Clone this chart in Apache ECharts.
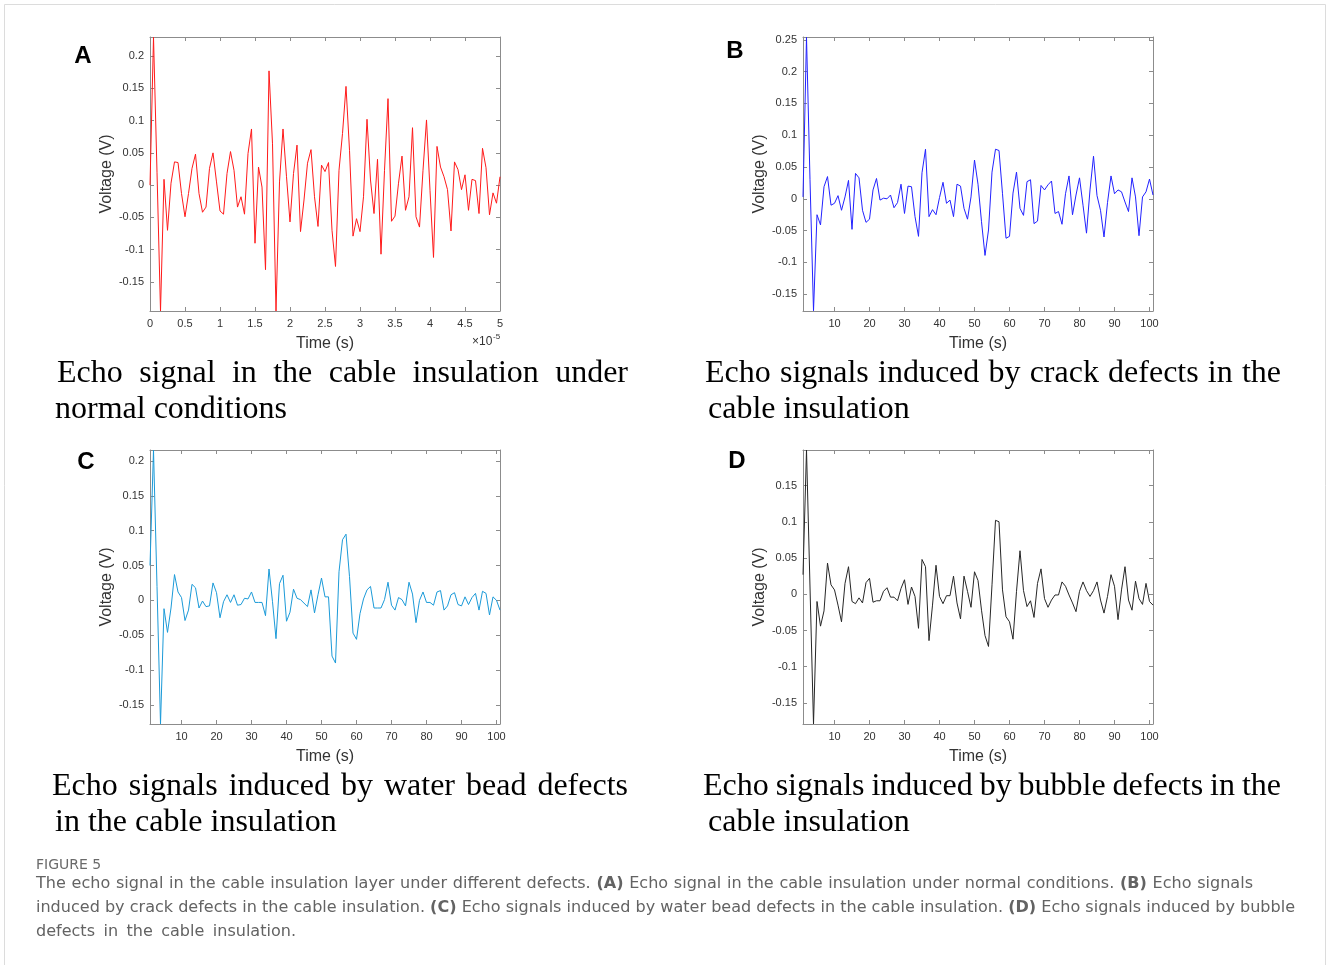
<!DOCTYPE html>
<html><head><meta charset="utf-8">
<script src="https://cdn.jsdelivr.net/npm/echarts@6/dist/echarts.min.js"></script>
<style>html,body{margin:0;padding:0;background:#fff}#c{width:1328px;height:965px}</style>
</head><body><div id="c"></div>
<script>
// ---------------- DATA ----------------
// Panel A: 101 samples, time axis in seconds (0 .. 5e-5)
const voltageA = [0.0,0.229,0.02,-0.195,0.009,-0.070,0.003,0.036,0.035,-0.013,
 -0.049,-0.013,0.026,0.048,-0.013,-0.042,-0.034,0.026,0.050,0.005,
 -0.040,-0.045,0.018,0.052,0.023,-0.034,-0.018,-0.045,0.049,0.087,
 -0.090,0.028,-0.003,-0.131,0.177,0.064,-0.195,0.005,0.087,0.013,
 -0.057,0.018,0.062,-0.072,-0.023,0.034,0.055,-0.018,-0.064,0.031,
 0.021,0.035,-0.070,-0.126,0.023,0.080,0.153,0.054,-0.079,-0.052,
 -0.072,-0.018,0.102,0.008,-0.044,0.040,-0.107,0.023,0.134,-0.056,
 -0.048,0.003,0.045,-0.039,-0.018,0.089,-0.049,-0.065,0.023,0.101,
 -0.008,-0.112,0.060,0.028,0.013,-0.007,-0.071,0.036,0.024,-0.007,
 0.016,-0.039,0.009,0.007,-0.044,0.057,0.027,-0.046,-0.012,-0.028,0.013];
// Panels B-D: samples 1..101
const voltageB = [0.003,0.254,0.03,-0.176,-0.025,-0.041,0.019,0.035,-0.010,-0.007,
 0.005,-0.018,0.003,0.029,-0.048,0.040,0.033,-0.018,-0.037,-0.032,
 0.014,0.032,-0.002,0.001,0.000,0.006,-0.014,-0.006,0.023,-0.023,
 0.020,0.019,-0.028,-0.059,0.041,0.078,-0.028,-0.017,-0.025,0.002,
 0.026,-0.007,-0.002,-0.028,0.023,0.020,-0.015,-0.032,0.003,0.061,
 0.023,-0.036,-0.089,-0.049,0.042,0.078,0.076,0.008,-0.062,-0.059,
 0.009,0.042,-0.015,-0.026,0.027,0.030,-0.039,-0.035,0.021,0.014,
 0.022,0.028,-0.023,-0.020,-0.040,0.008,0.036,-0.025,0.006,0.033,
 -0.010,-0.054,0.014,0.067,0.005,-0.018,-0.060,-0.006,0.036,0.008,
 0.014,0.011,-0.005,-0.020,0.033,0.003,-0.058,0.003,0.011,0.031,0.006];
const voltageC = [0.05,0.2158,0.02,-0.1775,-0.012,-0.046,-0.011,0.037,0.012,0.004,
 -0.029,-0.014,0.023,0.018,-0.011,-0.001,-0.009,-0.008,0.025,0.011,
 -0.025,-0.002,0.008,-0.003,0.008,-0.007,-0.006,0.003,0.002,0.012,
 -0.003,-0.003,-0.003,-0.022,0.045,-0.002,-0.055,0.024,0.036,-0.030,
 -0.017,0.016,0.003,0.001,-0.004,-0.009,0.015,-0.018,0.008,0.032,
 0.005,0.005,-0.080,-0.090,0.041,0.087,0.095,0.034,-0.047,-0.056,
 -0.019,0.002,0.015,0.020,-0.011,-0.011,-0.011,0.001,0.026,-0.007,
 -0.014,0.004,0.001,-0.008,0.026,0.009,-0.032,0.000,0.012,-0.003,
 -0.003,-0.007,0.012,0.014,-0.014,-0.008,0.008,0.011,-0.006,-0.008,
 0.005,-0.006,0.004,0.010,-0.014,0.013,0.010,-0.021,0.005,0.000,-0.014];
const voltageD = [0.027,0.199,0.01,-0.179,-0.010,-0.044,-0.023,0.043,0.013,0.006,
 -0.015,-0.038,0.015,0.038,-0.010,-0.013,-0.005,-0.012,0.016,0.022,
 -0.011,-0.009,-0.009,0.004,0.009,-0.004,-0.004,-0.009,0.008,0.020,
 -0.014,0.010,-0.003,-0.047,0.048,0.038,-0.064,-0.015,0.040,-0.003,
 -0.013,-0.002,-0.002,0.025,-0.012,-0.034,0.025,0.004,-0.018,0.031,
 0.019,-0.022,-0.057,-0.072,0.013,0.102,0.100,0.006,-0.031,-0.038,
 -0.062,0.004,0.060,0.005,-0.017,-0.009,-0.032,0.015,0.035,-0.006,
 -0.018,-0.008,-0.001,-0.001,0.017,0.011,-0.001,-0.012,-0.024,0.004,
 0.017,0.005,-0.003,0.005,0.017,-0.008,-0.026,-0.003,0.027,0.011,
 -0.035,0.006,0.038,-0.008,-0.022,0.018,-0.006,-0.014,0.015,-0.010,-0.015];

const samplePeriodA = 5e-7;            // seconds between samples in panel A
const timeTicksA = [0,0.5e-5,1e-5,1.5e-5,2e-5,2.5e-5,3e-5,3.5e-5,4e-5,4.5e-5,5e-5];
const timeTicksBCD = [10,20,30,40,50,60,70,80,90,100];
const voltTicksA = [-0.15,-0.1,-0.05,0,0.05,0.1,0.15,0.2];
const voltTicksB = [-0.15,-0.1,-0.05,0,0.05,0.1,0.15,0.2,0.25];
const voltTicksC = [-0.15,-0.1,-0.05,0,0.05,0.1,0.15,0.2];
const voltTicksD = [-0.15,-0.1,-0.05,0,0.05,0.1,0.15];
const voltRangeA = [-0.195,0.2295];
const voltRangeB = [-0.1764,0.2545];
const voltRangeC = [-0.1775,0.2158];
const voltRangeD = [-0.179,0.199];
const timeRangeA = [0,5e-5];
const timeRangeBCD = [1,101];

const panelLetters = ['A','B','C','D'];
const subCaptions = [
  ['Echo signal in the cable insulation under','normal conditions'],
  ['Echo signals induced by crack defects in the','cable insulation'],
  ['Echo signals induced by water bead defects','in the cable insulation'],
  ['Echo signals induced by bubble defects in the','cable insulation']
];
const figureLabel = 'FIGURE 5';
const captionLines = [
  'The echo signal in the cable insulation layer under different defects. (A) Echo signal in the cable insulation under normal conditions. (B) Echo signals',
  'induced by crack defects in the cable insulation. (C) Echo signals induced by water bead defects in the cable insulation. (D) Echo signals induced by bubble',
  'defects in the cable insulation.'
];

// ---------------- BUILD ----------------
const FONT = 'Liberation Sans, Arial, sans-serif';
const AX = '#8c8c8c', TX = '#333';
const chart = echarts.init(document.getElementById('c'), null, {renderer:'canvas'});

const panels = [
  {grid:{left:150,top:37,width:350,height:274}, xr:timeRangeA, xt:timeTicksA, xf:v=>String(parseFloat((v*1e5).toFixed(2))), yr:voltRangeA, yt:voltTicksA, color:'#ff1a1a',
   data:voltageA.map((v,i)=>[i*samplePeriodA,v])},
  {grid:{left:803,top:37,width:350,height:274}, xr:timeRangeBCD, xt:timeTicksBCD, xf:v=>String(v), yr:voltRangeB, yt:voltTicksB, color:'#2222ff',
   data:voltageB.map((v,i)=>[i+1,v])},
  {grid:{left:150,top:450,width:350,height:274}, xr:timeRangeBCD, xt:timeTicksBCD, xf:v=>String(v), yr:voltRangeC, yt:voltTicksC, color:'#1b9ad8',
   data:voltageC.map((v,i)=>[i+1,v])},
  {grid:{left:803,top:450,width:350,height:274}, xr:timeRangeBCD, xt:timeTicksBCD, xf:v=>String(v), yr:voltRangeD, yt:voltTicksD, color:'#262626',
   data:voltageD.map((v,i)=>[i+1,v])}
];

const grids=[], xAxes=[], yAxes=[], series=[];
const line = {show:true,onZero:false,lineStyle:{color:AX,width:1}};
const tick = (vals)=>({show:true,inside:true,length:4,customValues:vals,lineStyle:{color:AX,width:1}});
panels.forEach((p,gi)=>{
  grids.push(Object.assign({containLabel:false},p.grid));
  const yf = v=>String(parseFloat(v.toFixed(3)));
  xAxes.push({type:'value',gridIndex:gi,position:'bottom',min:p.xr[0],max:p.xr[1],axisLine:line,axisTick:tick(p.xt),
    axisLabel:{customValues:p.xt,formatter:p.xf,color:TX,fontSize:11,fontFamily:FONT,margin:7},splitLine:{show:false},
    name:'Time (s)',nameLocation:'middle',nameGap:25,nameTextStyle:{fontSize:16,color:TX,fontFamily:FONT}});
  xAxes.push({type:'value',gridIndex:gi,position:'top',min:p.xr[0],max:p.xr[1],axisLine:line,axisTick:tick(p.xt),
    axisLabel:{show:false},splitLine:{show:false}});
  yAxes.push({type:'value',gridIndex:gi,position:'left',min:p.yr[0],max:p.yr[1],axisLine:line,axisTick:tick(p.yt),
    axisLabel:{customValues:p.yt,formatter:yf,color:TX,fontSize:11,fontFamily:FONT,margin:6},splitLine:{show:false},
    name:'Voltage (V)',nameLocation:'middle',nameGap:33,nameTextStyle:{fontSize:16,color:TX,fontFamily:FONT}});
  yAxes.push({type:'value',gridIndex:gi,position:'right',min:p.yr[0],max:p.yr[1],axisLine:line,axisTick:tick(p.yt),
    axisLabel:{show:false},splitLine:{show:false}});
  series.push({type:'line',xAxisIndex:gi*2,yAxisIndex:gi*2,data:p.data,showSymbol:false,symbol:'none',
    lineStyle:{color:p.color,width:1},silent:true,z:3});
});

// graphics
const graphic = [];
graphic.push({type:'rect',shape:{x:4.5,y:4.5,width:1321,height:990},style:{fill:'none',stroke:'#dcdcdc',lineWidth:1},z:-1});
const letterPos = [[83,55],[735,50],[86,461],[737,460]];
panelLetters.forEach((L,i)=>graphic.push({type:'text',x:letterPos[i][0],y:letterPos[i][1]+1,
  style:{text:L,fontSize:24,fontWeight:'bold',fontFamily:FONT,fill:'#000',align:'center',verticalAlign:'middle',textAlign:'center',textVerticalAlign:'middle'}}));
graphic.push({type:'text',x:472,y:342,style:{text:'\u00d710',fontSize:12,fontFamily:FONT,fill:TX,align:'left',verticalAlign:'middle',textAlign:'left',textVerticalAlign:'middle'}});
graphic.push({type:'text',x:493,y:337,style:{text:'-5',fontSize:8,fontFamily:FONT,fill:TX,align:'left',verticalAlign:'middle',textAlign:'left',textVerticalAlign:'middle'}});

const SERIF = '"Liberation Serif", "Times New Roman", serif';
const ctx = document.createElement('canvas').getContext('2d');
function txtEl(txt,x,y,size,family,fill,weight){
  return {type:'text',x:x,y:y,style:{text:txt,fontSize:size,fontFamily:family,fontWeight:weight||'normal',fill:fill,align:'left',verticalAlign:'middle',textAlign:'left',textVerticalAlign:'middle'}};
}
const isBold = w=>/^\([A-D]\)$/.test(w);
function measureWords(txt,size,family,boldTest){
  return txt.split(' ').map(w=>{
    const bold = boldTest ? boldTest(w) : false;
    ctx.font = (bold?'bold ':'') + size + 'px ' + family;
    return {w:w,bold:bold,width:ctx.measureText(w).width};
  });
}
function justify(txt,x0,x1,y,size,family,fill,boldTest){
  const ws = measureWords(txt,size,family,boldTest);
  const total = ws.reduce((a,b)=>a+b.width,0);
  const gap = (x1-x0-total)/(ws.length-1);
  let x = x0;
  ws.forEach(o=>{graphic.push(txtEl(o.w,x,y,size,family,fill,o.bold?'bold':'normal')); x += o.width+gap;});
}
const capPos = [
  {x0:57,x1:628,y1:374,x2:55,y2:410},
  {x0:705,x1:1281,y1:374,x2:708,y2:410},
  {x0:52,x1:628,y1:787,x2:55,y2:823},
  {x0:703,x1:1281,y1:787,x2:708,y2:823}
];
subCaptions.forEach((c,i)=>{
  const p = capPos[i];
  justify(c[0],p.x0,p.x1,p.y1,32,SERIF,'#000');
  graphic.push(txtEl(c[1],p.x2,p.y2,32,SERIF,'#000'));
});

// caption: pick a font size whose natural width matches the reference line 2
const CAPF = '"DejaVu Sans", "Open Sans", sans-serif';
const captionRight = [1253,1295,296];
(function(){
  const ws = measureWords(captionLines[1],16,CAPF,isBold);
  ctx.font = '16px ' + CAPF;
  const sp = ctx.measureText(' ').width;
  const nat = ws.reduce((a,b)=>a+b.width,0) + sp*(ws.length-1);
  let size = 16*(1295-36)/nat;
  size = Math.max(13, Math.min(18, size));
  graphic.push(txtEl(figureLabel,36,865,14,CAPF,'#6a6a6a'));
  captionLines.forEach((t,i)=>{
    justify(t,36,captionRight[i],884+i*24,size,CAPF,'#636363',isBold);
  });
})();

chart.setOption({animation:false,backgroundColor:'#fff',grid:grids,xAxis:xAxes,yAxis:yAxes,series:series,graphic:graphic});
</script></body></html>
